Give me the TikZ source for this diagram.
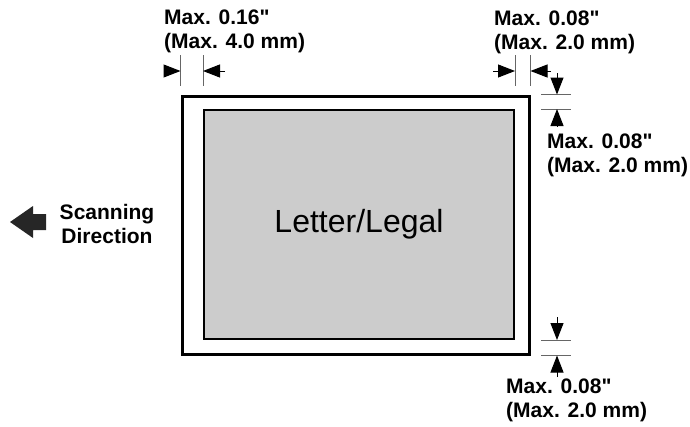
\documentclass[tikz,border=0pt]{standalone}
\usepackage{fontspec}
\setmainfont{Liberation Sans}
\usetikzlibrary{arrows.meta,positioning}

\begin{document}
\begin{tikzpicture}[x=1pt, y=-1pt,
    tick/.style={draw=gray!80!black, line width=0.9pt},
    dimarrow/.style={-{Triangle[length=17pt,width=13pt]}, line width=1pt},
    label/.style={font=\fontsize{21}{24}\selectfont\bfseries, align=left, anchor=north west, inner sep=0pt}]
    \useasboundingbox (0,0) rectangle (690,426);

    % sheet and scan area
    \node (sheet) [draw, line width=3pt, minimum width=347pt, minimum height=258pt, inner sep=0pt] at (355.5,225) {};
    \node (paper) [draw, line width=2pt, fill=gray!40, minimum width=310pt, minimum height=229pt, inner sep=0pt,
        font=\fontsize{32}{36}\selectfont] at (359,224.5) {Letter/Legal};

    % top left margin
    \draw [tick] (sheet.west |- 0,55) -- (sheet.west |- 0,86);
    \draw [tick] (paper.west |- 0,55) -- (paper.west |- 0,86);
    \coordinate (tlA) at (164,71);
    \coordinate (tlB) at (225,71);
    \draw [dimarrow] (tlA) -- (tlA -| sheet.west);
    \draw [dimarrow] (tlB) -- (tlB -| paper.west);
    \node (tltext) [label] at (164,10) {Max. 0.16\textquotedbl\\(Max. 4.0 mm)};

    % top right margin
    \draw [tick] (paper.east |- 0,55) -- (paper.east |- 0,86);
    \draw [tick] (sheet.east |- 0,55) -- (sheet.east |- 0,86);
    \coordinate (trA) at (493,71);
    \coordinate (trB) at (551,71);
    \draw [dimarrow] (trA) -- (trA -| paper.east);
    \draw [dimarrow] (trB) -- (trB -| sheet.east);
    \node (trtext) [label] at (494,11) {Max. 0.08\textquotedbl\\(Max. 2.0 mm)};

    % right margin, top edge
    \draw [tick] (541,0 |- sheet.north) -- (571,0 |- sheet.north);
    \draw [tick] (541,0 |- paper.north) -- (571,0 |- paper.north);
    \coordinate (rtA) at (557,73);
    \coordinate (rtB) at (557,126);
    \draw [dimarrow] (rtA) -- (rtA |- sheet.north);
    \draw [dimarrow] (rtB) -- (rtB |- paper.north);
    \node (rttext) [label] at (547,134) {Max. 0.08\textquotedbl\\(Max. 2.0 mm)};

    % right margin, bottom edge
    \draw [tick] (541,0 |- paper.south) -- (571,0 |- paper.south);
    \draw [tick] (541,0 |- sheet.south) -- (571,0 |- sheet.south);
    \coordinate (rbA) at (557,317);
    \coordinate (rbB) at (557,377);
    \draw [dimarrow] (rbA) -- (rbA |- paper.south);
    \draw [dimarrow] (rbB) -- (rbB |- sheet.south);
    \node (rbtext) [label] at (506,379) {Max. 0.08\textquotedbl\\(Max. 2.0 mm)};

    % scanning direction
    \fill [gray!30!black] (10,222) -- (33,206) -- (33,214) -- (46,214) -- (46,230) -- (33,230) -- (33,238) -- cycle;
    \node (scan) [label, align=center, anchor=north] at (107,204) {Scanning\\Direction};
\end{tikzpicture}
\end{document}
